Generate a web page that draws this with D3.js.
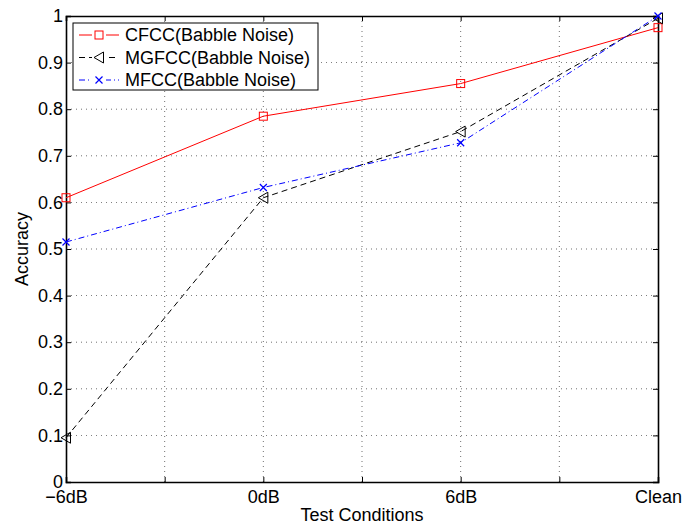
<!DOCTYPE html>
<html>
<head>
<meta charset="utf-8">
<script src="https://cdn.jsdelivr.net/npm/d3@7"></script>
<style>
  html, body { margin: 0; padding: 0; background: #fff; }
  svg { display: block; }
  text { font-family: "Liberation Sans", Arial, Helvetica, sans-serif; fill: #000; }
</style>
</head>
<body>
<svg id="chart" width="696" height="526"></svg>
<script>
// Test conditions along the x axis
const categories = ["\u22126dB", "0dB", "6dB", "Clean"];

// Accuracy per feature set
const cfcc  = [0.61, 0.785, 0.855, 0.975];
const mgfcc = [0.095, 0.61, 0.752, 0.995];
const mfcc  = [0.515, 0.632, 0.728, 1.0];

const seriesNames = ["CFCC(Babble Noise)", "MGFCC(Babble Noise)", "MFCC(Babble Noise)"];
const yTicks = [0, 0.1, 0.2, 0.3, 0.4, 0.5, 0.6, 0.7, 0.8, 0.9, 1];
const xTicks = [0, 0.5, 1, 1.5, 2, 2.5, 3];

const series = [
  { name: seriesNames[0], values: cfcc,  color: "#ff0000", dash: null,      marker: "square" },
  { name: seriesNames[1], values: mgfcc, color: "#000000", dash: "6,4",     marker: "triangle" },
  { name: seriesNames[2], values: mfcc,  color: "#0000ff", dash: "6,3,1,3", marker: "cross" }
];

const FS = "18px";
const svg = d3.select("#chart");
const m = { left: 66, right: 38, top: 16, bottom: 44 };
const W = 696, H = 526;
const pw = W - m.left - m.right, ph = H - m.top - m.bottom;

const x = d3.scaleLinear().domain([0, categories.length - 1]).range([0, pw]);
const y = d3.scaleLinear().domain([0, 1]).range([ph, 0]);

const g = svg.append("g").attr("transform", `translate(${m.left},${m.top})`);

// Dotted grid
g.append("g").selectAll("line").data(yTicks.filter(t => t > 0 && t < 1)).join("line")
  .attr("x1", 0).attr("x2", pw).attr("y1", d => y(d)).attr("y2", d => y(d))
  .attr("stroke", "#000").attr("stroke-width", 0.8).attr("stroke-dasharray", "1,4").attr("opacity", 0.7);
g.append("g").selectAll("line").data(xTicks.filter(t => t > 0 && t < 3)).join("line")
  .attr("y1", 0).attr("y2", ph).attr("x1", d => x(d)).attr("x2", d => x(d))
  .attr("stroke", "#000").attr("stroke-width", 0.8).attr("stroke-dasharray", "1,4").attr("opacity", 0.7);

// Axes with inward ticks on all four sides
const fmtX = d => Number.isInteger(d) ? categories[d] : "";
const axL = g.append("g").call(d3.axisLeft(y).tickValues(yTicks).tickSize(-5).tickPadding(3).tickFormat(d3.format("~g")));
const axR = g.append("g").attr("transform", `translate(${pw},0)`).call(d3.axisRight(y).tickValues(yTicks).tickSize(-5).tickFormat(""));
const axB = g.append("g").attr("transform", `translate(0,${ph})`).call(d3.axisBottom(x).tickValues(xTicks).tickSize(-5).tickPadding(8).tickFormat(fmtX));
const axT = g.append("g").call(d3.axisTop(x).tickValues(xTicks).tickSize(-5).tickFormat(""));
[axL, axR, axB, axT].forEach(a => {
  a.select(".domain").attr("stroke", "#000").attr("stroke-width", 1.6);
  a.selectAll(".tick line").attr("stroke", "#000").attr("stroke-width", 1);
  a.selectAll("text").style("font-size", FS).attr("font-family", "Liberation Sans, Arial, sans-serif");
});
axL.selectAll(".tick text").attr("dy", "0.32em");
axB.selectAll(".tick text").attr("dy", "0.72em");

// Axis titles
svg.append("text").attr("x", m.left + pw / 2).attr("y", 521).attr("text-anchor", "middle")
  .style("font-size", FS).text("Test Conditions");
svg.append("text").attr("transform", `translate(28,${m.top + ph / 2}) rotate(-90)`).attr("text-anchor", "middle")
  .style("font-size", FS).text("Accuracy");

function drawMarker(sel, type, color) {
  if (type === "square") {
    sel.append("rect").attr("x", -4).attr("y", -4).attr("width", 8).attr("height", 8)
      .attr("fill", "none").attr("stroke", color).attr("stroke-width", 1);
  } else if (type === "triangle") {
    sel.append("path").attr("d", "M-5,0L4.5,-5.5L4.5,5.5Z").attr("fill", "none").attr("stroke", color).attr("stroke-width", 1);
  } else {
    sel.append("path").attr("d", "M-3.5,-3.5L3.5,3.5M-3.5,3.5L3.5,-3.5").attr("stroke", color).attr("stroke-width", 1.2);
  }
}

const line = d3.line().x((d, i) => x(i)).y(d => y(d));
series.forEach(s => {
  g.append("path").datum(s.values).attr("d", line).attr("fill", "none")
    .attr("stroke", s.color).attr("stroke-width", 1).attr("stroke-dasharray", s.dash);
  s.values.forEach((v, i) => {
    const mk = g.append("g").attr("transform", `translate(${x(i)},${y(v)})`);
    drawMarker(mk, s.marker, s.color);
  });
});

// Legend
const lg = svg.append("g").attr("transform", "translate(73,23)");
lg.append("rect").attr("width", 245).attr("height", 67).attr("fill", "#fff").attr("stroke", "#000").attr("stroke-width", 1);
series.forEach((s, i) => {
  const yy = 12 + i * 22.5;
  lg.append("line").attr("x1", 6).attr("x2", 46).attr("y1", yy).attr("y2", yy)
    .attr("stroke", s.color).attr("stroke-width", 1).attr("stroke-dasharray", s.dash);
  const mk = lg.append("g").attr("transform", `translate(26,${yy})`);
  mk.append("rect").attr("x", -7).attr("y", -7).attr("width", 14).attr("height", 14).attr("fill", "#fff");
  drawMarker(mk, s.marker, s.color);
  lg.append("text").attr("x", 52).attr("y", yy).attr("dy", "0.36em").style("font-size", FS).text(s.name);
});
</script>
</body>
</html>
